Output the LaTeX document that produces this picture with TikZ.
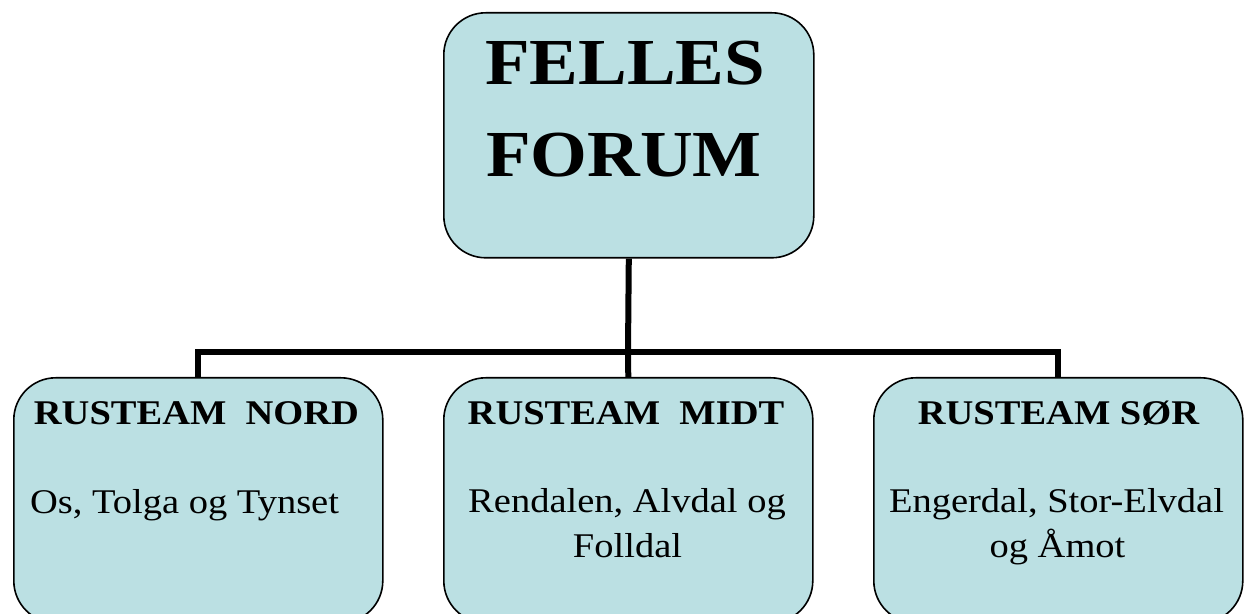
\documentclass[tikz,border=0pt]{standalone}
\usepackage{fontspec}
\setmainfont{Liberation Serif}
\definecolor{boxfill}{RGB}{187,224,227}
\newcommand{\vsq}[1]{\scalebox{1}[0.9]{#1}}
\begin{document}
\begin{tikzpicture}[x=0.5pt,y=-0.5pt,
  box/.style={draw=black, line width=0.8pt, fill=boxfill, rounded corners=21pt,
    inner sep=0pt, anchor=north west},
  topbox/.style={box, minimum width=185pt, minimum height=122.5pt},
  lowbox/.style={box, minimum width=184.5pt, minimum height=122.5pt},
  conn/.style={draw=black, line width=3pt},
  bigtxt/.style={anchor=base, inner sep=0pt, font=\fontsize{36.5pt}{40pt}\selectfont\bfseries},
  headtxt/.style={anchor=base, inner sep=0pt, font=\fontsize{19.25pt}{22pt}\selectfont\bfseries},
  bodytxt/.style={anchor=base, inner sep=0pt, font=\fontsize{19.25pt}{22pt}\selectfont}]
\useasboundingbox (0,0) rectangle (1250,614);
\clip (0,0) rectangle (1250,614);

% boxes
\node (forum) [topbox] at (443,12) {};
\node (nord) [lowbox] at (13,377) {};
\node (midt) [lowbox] at (443,377) {};
\node (sor) [lowbox] at (873,377) {};

% connectors
\coordinate (bar) at (628,352);
\draw[conn] (forum.south) -- (bar);
\draw[conn] (nord.north) |- (sor.north |- bar) -- (sor.north);
\draw[conn] (bar) -- (midt.north);

% texts
\node (t1) [bigtxt] at (625,85) {\vsq{FELLES}};
\node (t2) [bigtxt] at (624,177) {\vsq{FORUM}};

\node (n1) [headtxt] at (196.5,425) {\vsq{RUSTEAM\ \ NORD}};
\node (n2) [bodytxt] at (184.5,514) {\vsq{Os, Tolga og Tynset}};

\node (m1) [headtxt] at (626,425) {\vsq{RUSTEAM\ \ MIDT}};
\node (m2) [bodytxt] at (627,513) {\vsq{Rendalen, Alvdal og}};
\node (m3) [bodytxt] at (627.5,558) {\vsq{Folldal}};

\node (s1) [headtxt] at (1058.5,425) {\vsq{RUSTEAM SØR}};
\node (s2) [bodytxt] at (1056.5,513) {\vsq{Engerdal, Stor-Elvdal}};
\node (s3) [bodytxt] at (1057.5,558) {\vsq{og Åmot}};
\end{tikzpicture}
\end{document}
